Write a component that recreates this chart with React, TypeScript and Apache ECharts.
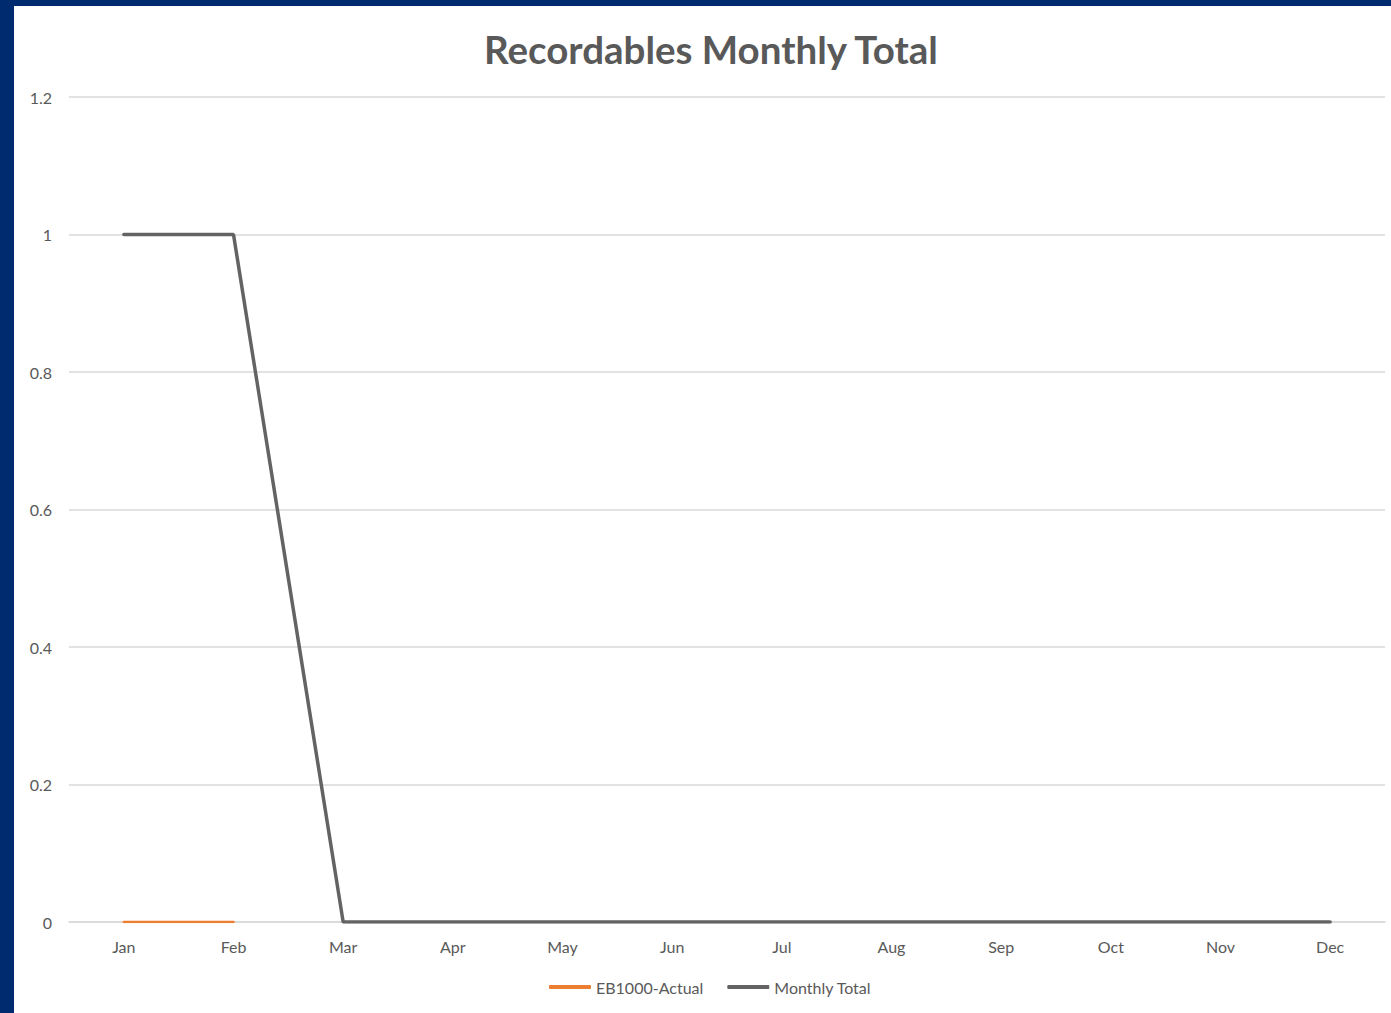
import React, { useEffect, useRef } from "react";
import * as echarts from "echarts";

const months = ["Jan", "Feb", "Mar", "Apr", "May", "Jun", "Jul", "Aug", "Sep", "Oct", "Nov", "Dec"];
const eb1000Actual: (number | null)[] = [0, 0, null, null, null, null, null, null, null, null, null, null];
const monthlyTotal: number[] = [1, 1, 0, 0, 0, 0, 0, 0, 0, 0, 0, 0];
const yTicks = { min: 0, max: 1.2, interval: 0.2 };

export default function App() {
  const ref = useRef<HTMLDivElement>(null);
  useEffect(() => {
    document.body.style.margin = "0";
    const chart = echarts.init(ref.current!, null, { renderer: "svg" });
    const font = "Lato";
    chart.setOption({
      animation: false,
      backgroundColor: "#002C6F",
      graphic: [
        {
          type: "rect",
          shape: { x: 14, y: 6, width: 1391 - 14, height: 1013 - 6 },
          style: { fill: "#ffffff" },
          z: -10,
        },
      ],
      title: {
        text: "Recordables Monthly Total",
        left: 479,
        top: 24,
        textStyle: { fontFamily: font, fontWeight: "bold", fontSize: 38.5, color: "#595959" },
      },
      grid: { left: 69, right: 6, top: 97, bottom: 91, containLabel: false },
      legend: {
        bottom: 13,
        left: 544,
        itemWidth: 42,
        itemHeight: 4,
        itemGap: 24,
        icon: "roundRect",
        textStyle: { fontFamily: font, fontSize: 16, color: "#595959" },
        data: ["EB1000-Actual", "Monthly Total"],
      },
      xAxis: {
        type: "category",
        data: months,
        boundaryGap: true,
        axisLine: { show: true, lineStyle: { color: "#D9D9D9", width: 1.5 } },
        axisTick: { show: false },
        axisLabel: { margin: 16, fontFamily: font, fontSize: 16, color: "#595959" },
      },
      yAxis: {
        type: "value",
        min: yTicks.min,
        max: yTicks.max,
        interval: yTicks.interval,
        axisLine: { show: false },
        axisTick: { show: false },
        splitLine: { lineStyle: { color: "#D9D9D9", width: 1.5 } },
        axisLabel: { margin: 17, fontFamily: font, fontSize: 16, color: "#595959" },
      },
      series: [
        {
          name: "EB1000-Actual",
          type: "line",
          data: eb1000Actual,
          symbol: "none",
          itemStyle: { color: "#ED7D31" },
          lineStyle: { color: "#ED7D31", width: 2.5, cap: "round" },
          z: 3,
        },
        {
          name: "Monthly Total",
          type: "line",
          data: monthlyTotal,
          symbol: "none",
          itemStyle: { color: "#636363" },
          lineStyle: { color: "#636363", width: 3.5, cap: "round" },
          z: 2,
        },
      ],
    });
    return () => chart.dispose();
  }, []);
  return <div ref={ref} style={{ width: 1391, height: 1013 }} />;
}
